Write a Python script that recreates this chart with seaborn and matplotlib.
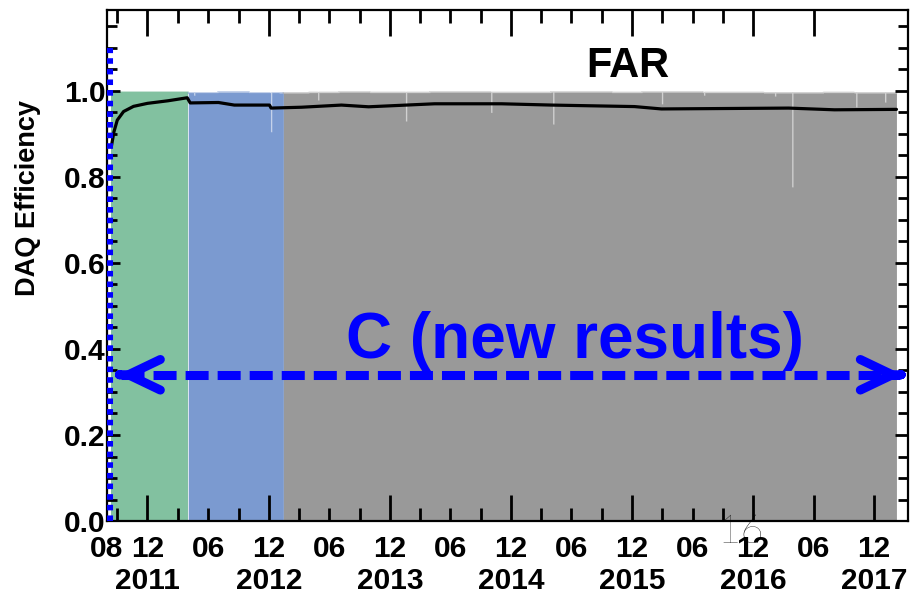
import numpy as np
import pandas as pd
import matplotlib
matplotlib.use("Agg")
import matplotlib.pyplot as plt
import matplotlib.dates as mdates
from matplotlib.ticker import FixedLocator, FixedFormatter, FormatStrFormatter
import seaborn as sns

# ---------------------------------------------------------------- data
# Daily DAQ efficiency baseline, one value per quarter (top edge of the histogram)
QUARTER_STARTS = [
    "2011-08-14", "2011-10-01", "2012-01-01", "2012-04-01", "2012-07-01",
    "2012-10-01", "2013-01-01", "2013-04-01", "2013-07-01", "2013-10-01",
    "2014-01-01", "2014-04-01", "2014-07-01", "2014-10-01", "2015-01-01",
    "2015-04-01", "2015-07-01", "2015-10-01", "2016-01-01", "2016-04-01",
    "2016-07-01", "2016-10-01", "2017-01-01", "2017-04-01", "2017-07-01",
    "2017-10-01", "2018-01-01",
]
QUARTER_EFF = [
    0.997, 0.998, 0.998, 0.996, 0.997,
    0.996, 0.995, 0.996, 0.997, 0.996,
    0.996, 0.997, 0.997, 0.996, 0.996,
    0.997, 0.997, 0.996, 0.997, 0.997,
    0.996, 0.996, 0.995, 0.995, 0.996,
    0.995, 0.995,
]
DATA_END = "2018-02-06"

# Days with reduced efficiency
DIP_DATES = ["2012-04-18", "2012-12-06", "2013-04-27", "2014-01-17", "2014-10-01",
             "2015-04-06", "2016-02-28", "2016-07-04", "2017-02-03", "2017-03-27",
             "2017-10-06", "2018-01-01"]
DIP_EFF = [0.990, 0.905, 0.979, 0.930, 0.950,
           0.923, 0.970, 0.990, 0.988, 0.777,
           0.963, 0.974]
DIP_DAYS = 4

# Run periods (edges) and their colours
PERIOD_EDGES = ["2011-08-14", "2012-04-02", "2013-01-14", "2018-02-06"]
PERIOD_COLORS = ["#82c1a0", "#7b9ad0", "#999999"]

# Integrated (cumulative) DAQ efficiency
CUM_DATES = ["2011-08-14", "2011-08-22", "2011-09-01", "2011-09-20", "2011-10-20",
             "2011-12-01", "2012-02-01", "2012-03-30", "2012-04-08", "2012-07-02",
             "2012-08-19", "2012-12-03", "2012-12-08", "2013-03-10", "2013-07-08",
             "2013-09-28", "2014-04-15", "2014-11-03", "2015-04-03", "2015-12-09",
             "2016-02-28", "2017-03-18", "2017-08-03", "2018-02-06"]
CUM_EFF = [0.870, 0.905, 0.932, 0.952, 0.964,
           0.971, 0.977, 0.984, 0.972, 0.973,
           0.967, 0.967, 0.960, 0.962, 0.967,
           0.963, 0.970, 0.970, 0.967, 0.9635,
           0.958, 0.960, 0.956, 0.957]

# Date axis: long ticks and short ticks, each with their own labels
X_MAJOR_DATES = ["2011-12-01", "2012-12-01", "2013-12-01", "2014-12-01", "2015-12-01",
                 "2016-12-01", "2017-06-01", "2017-12-01"]
X_MAJOR_LABELS = ["12\n2011", "12\n2012", "12\n2013", "12\n2014", "12\n2015",
                  "12\n2016", "06", "12\n2017"]
X_MINOR_DATES = ["2011-08-01", "2011-09-01", "2012-03-01", "2012-06-01", "2012-09-01",
                 "2013-03-01", "2013-06-01", "2013-09-01", "2014-03-01", "2014-06-01",
                 "2014-09-01", "2015-03-01", "2015-06-01", "2015-09-01", "2016-03-01",
                 "2016-06-01", "2016-09-01"]
X_MINOR_LABELS = ["08", "", "", "06", "",
                  "", "06", "", "", "06",
                  "", "", "06", "", "",
                  "06", ""]
X_RANGE = ["2011-08-01", "2018-03-13"]
Y_RANGE = [0.0, 1.188]
Y_MAJOR = [0.2, 0.4, 0.6, 0.8, 1.0]
Y_MINOR = [0.05, 0.10, 0.15, 0.25, 0.30, 0.35, 0.45, 0.50, 0.55, 0.65, 0.70, 0.75,
           0.85, 0.90, 0.95, 1.05, 1.10, 1.15]

TITLE = "FAR"
Y_LABEL = "DAQ Efficiency"
NOTE = "C (new results)"
PAGE = "16"

# annotation geometry
MARK_DATE = "2011-08-07"
MARK_TOP = 1.10
ARROW_LEFT = "2011-09-03"
ARROW_RIGHT = "2018-02-25"
ARROW_Y = 0.34

BLUE = "#0000ff"

# ---------------------------------------------------------------- style
sns.set_theme(style="ticks", rc={"axes.axisbelow": False})
plt.rcParams["font.family"] = ["Liberation Sans", "DejaVu Sans"]
plt.rcParams["font.weight"] = "bold"

fig = plt.figure(figsize=(9.2, 5.96), dpi=100)
ax = fig.add_axes([0.1163, 0.1258, 0.8707, 0.8574])

# ---------------------------------------------------------------- daily histogram
days = pd.date_range(QUARTER_STARTS[0], DATA_END, freq="D")
daily = pd.Series(QUARTER_EFF, index=pd.to_datetime(QUARTER_STARTS)).reindex(days, method="ffill")
for d, v in zip(DIP_DATES, DIP_EFF):
    d0 = pd.Timestamp(d)
    daily[d0: d0 + pd.Timedelta(days=DIP_DAYS - 1)] = v

for a, b, c in zip(PERIOD_EDGES[:-1], PERIOD_EDGES[1:], PERIOD_COLORS):
    seg = daily[a:b]
    ax.fill_between(seg.index, 0, seg.values, step="post", color=c, lw=0, zorder=1)
    ax.step(seg.index, seg.values, where="post", color=c, alpha=0.45, lw=1.4, zorder=1)

# ---------------------------------------------------------------- cumulative line
cum = pd.DataFrame({"date": pd.to_datetime(CUM_DATES), "eff": CUM_EFF})
sns.lineplot(data=cum, x="date", y="eff", color="black", lw=2.3, ax=ax, zorder=3)

# ---------------------------------------------------------------- axes
x0 = mdates.date2num(pd.Timestamp(X_RANGE[0]))
x1 = mdates.date2num(pd.Timestamp(X_RANGE[1]))
y0, y1 = Y_RANGE
ax.set_xlim(x0, x1)
ax.set_ylim(y0, y1)
ax.set_xlabel("")
ax.set_ylabel("")

x_major = mdates.date2num(pd.to_datetime(X_MAJOR_DATES))
x_minor_all = mdates.date2num(pd.to_datetime(X_MINOR_DATES))

ax.xaxis.set_major_locator(FixedLocator(x_major))
ax.xaxis.set_major_formatter(FixedFormatter(X_MAJOR_LABELS))
ax.xaxis.set_minor_locator(FixedLocator(x_minor_all))
ax.xaxis.set_minor_formatter(FixedFormatter(X_MINOR_LABELS))
ax.yaxis.set_major_locator(FixedLocator([0.0] + Y_MAJOR))
ax.yaxis.set_major_formatter(FormatStrFormatter("%.1f"))
ax.yaxis.set_minor_locator(FixedLocator([]))

# axis objects carry the labels; the inward tick marks are drawn as line segments
ax.tick_params(axis="x", which="both", direction="in", length=0,
               labelsize=21.5, pad=10, labelcolor="black")
ax.tick_params(axis="y", which="major", direction="in", length=0,
               labelsize=21.5, pad=1, labelcolor="black")

for spine in ax.spines.values():
    spine.set_linewidth(1.6)
    spine.set_color("black")

# tick lengths: 26 px / 13 px along x, 13 px / 10 px along y
yspan = y1 - y0
xspan = x1 - x0
LX_MAJ, LX_MIN = 0.051 * yspan, 0.0254 * yspan
LY_MAJ, LY_MIN = 0.0162 * xspan, 0.0125 * xspan


def segments(starts, ends):
    xs, ys = [], []
    for (ax_, ay_), (bx_, by_) in zip(starts, ends):
        xs += [ax_, bx_, np.nan]
        ys += [ay_, by_, np.nan]
    return xs, ys


tick_segs = []
for x in x_major:
    tick_segs.append(((x, y0), (x, y0 + LX_MAJ)))
for x in x_major[:-1]:
    tick_segs.append(((x, y1), (x, y1 - LX_MAJ)))
for x in x_minor_all[1:]:
    tick_segs.append(((x, y0), (x, y0 + LX_MIN)))
    tick_segs.append(((x, y1), (x, y1 - LX_MIN)))
for y in Y_MAJOR:
    tick_segs.append(((x0, y), (x0 + LY_MAJ, y)))
    tick_segs.append(((x1, y), (x1 - LY_MAJ, y)))
for y in Y_MINOR:
    tick_segs.append(((x0, y), (x0 + LY_MIN, y)))
    tick_segs.append(((x1, y), (x1 - LY_MIN, y)))

tx, ty = segments([s for s, _ in tick_segs], [e for _, e in tick_segs])
ax.plot(tx, ty, color="black", lw=2, solid_capstyle="butt", zorder=6.5, clip_on=False)

# ---------------------------------------------------------------- texts
ax.text(0.650, 0.869, TITLE, transform=ax.transAxes, ha="center", va="baseline",
        fontsize=30, fontweight="bold", color="black", zorder=6)
fig.text(28 / 920, 1 - 198 / 596, Y_LABEL, rotation=90, ha="center", va="center",
         fontsize=19.5, fontweight="bold", color="black")
ax.text(0.584, 0.319, NOTE, transform=ax.transAxes, ha="center", va="baseline",
        fontsize=46, fontweight="bold", color=BLUE, zorder=6)
fig.text(741 / 920, 1 - 532 / 596, PAGE, ha="center", va="center", fontsize=29,
         fontweight="light", family=["Lato", "DejaVu Sans"], color="black", zorder=10)

# ---------------------------------------------------------------- blue markers
xm = mdates.date2num(pd.Timestamp(MARK_DATE))
ax.plot([xm, xm], [0, MARK_TOP], color=BLUE, lw=5.8, linestyle=(0, (0.69, 0.63)),
        dash_capstyle="butt", zorder=7)

xl = mdates.date2num(pd.Timestamp(ARROW_LEFT))
xr = mdates.date2num(pd.Timestamp(ARROW_RIGHT))
ax.plot([xl + 8, xr - 8], [ARROW_Y, ARROW_Y], color=BLUE, lw=6.5,
        linestyle=(0, (2.55, 1.0)), dash_capstyle="butt", zorder=7)
for tip, tail in [(xl, xl + 6), (xr, xr - 6)]:
    ax.annotate("", xy=(tip, ARROW_Y), xytext=(tail, ARROW_Y),
                arrowprops=dict(arrowstyle="->,head_length=23,head_width=11",
                                mutation_scale=1, lw=6.5, color=BLUE,
                                capstyle="round", joinstyle="round",
                                shrinkA=0, shrinkB=0),
                zorder=7)

fig.canvas.draw()
fig.savefig("out.png", dpi=100)
